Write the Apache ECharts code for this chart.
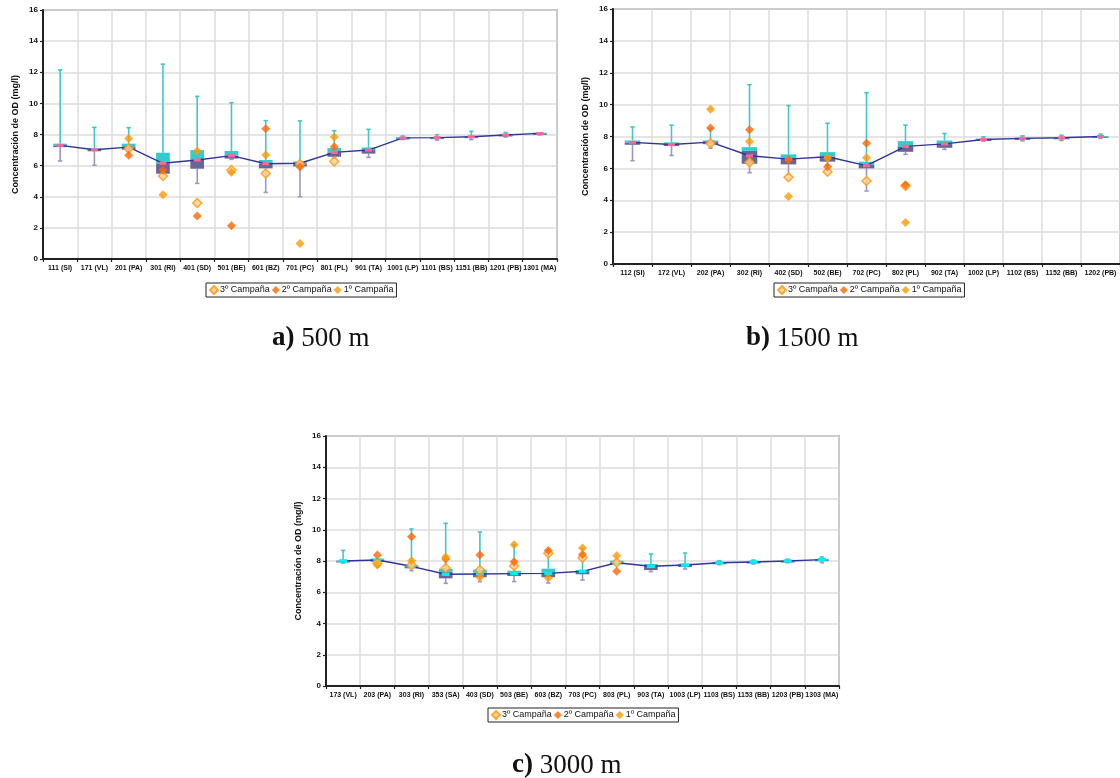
<!DOCTYPE html>
<html>
<head>
<meta charset="utf-8">
<script src="https://cdn.jsdelivr.net/npm/echarts@6/dist/echarts.min.js"></script>
<style>
  html, body { margin: 0; padding: 0; background: #fff; }
  #chart { width: 1120px; height: 778px; }
</style>
</head>
<body>
<div id="chart"></div>
<script>
// Dissolved oxygen (mg/l) per station, three transects: 500 m, 1500 m, 3000 m.
// Each station: whisker min, lower quartile, middle split, upper quartile, whisker max,
// plus the connected mean value and the individual survey campaigns.

const yTicks = [0, 2, 4, 6, 8, 10, 12, 14, 16];
const campaignNames = ['3º Campaña', '2º Campaña', '1º Campaña'];

// ---- a) 500 m ----
const catsA = ['111 (SI)', '171 (VL)', '201 (PA)', '301 (RI)', '401 (SD)', '501 (BE)', '601 (BZ)', '701 (PC)', '801 (PL)', '901 (TA)', '1001 (LP)', '1101 (BS)', '1151 (BB)', '1201 (PB)', '1301 (MA)'];
const minA  = [6.30, 6.02, 6.95, 5.45, 4.86, 6.40, 4.28, 4.00, 6.50, 6.53, 7.68, 7.64, 7.67, 7.84, 7.97];
const q1A   = [7.19, 6.94, 7.02, 5.48, 5.80, 6.45, 5.82, 5.95, 6.57, 6.77, 7.73, 7.75, 7.82, 7.92, 8.01];
const midA  = [7.30, 7.02, 7.19, 6.15, 6.36, 6.64, 6.12, 6.15, 6.85, 7.00, 7.78, 7.80, 7.86, 7.97, 8.07];
const q3A   = [7.41, 7.11, 7.41, 6.83, 7.00, 6.94, 6.36, 6.27, 7.13, 7.17, 7.83, 7.84, 7.90, 8.01, 8.12];
const maxA  = [12.15, 8.46, 8.44, 12.52, 10.45, 10.04, 8.89, 8.87, 8.24, 8.33, 7.90, 7.99, 8.20, 8.13, 8.15];
const meanA = [7.30, 7.02, 7.19, 6.15, 6.36, 6.64, 6.12, 6.15, 6.85, 7.00, 7.78, 7.80, 7.86, 7.97, 8.07];
const camp3A = [null, null, 7.09, 5.33, 3.60, 5.72, 5.50, 6.10, 6.27, null, null, null, null, null, null];
const camp2A = [null, null, 6.66, 5.70, 2.76, 2.14, 8.37, 5.91, 7.22, null, null, null, null, null, null];
const camp1A = [null, null, 7.75, 4.13, 6.94, 5.57, 6.68, 1.00, 7.84, null, null, null, null, null, null];

// ---- b) 1500 m ----
const catsB = ['112 (SI)', '172 (VL)', '202 (PA)', '302 (RI)', '402 (SD)', '502 (BE)', '702 (PC)', '802 (PL)', '902 (TA)', '1002 (LP)', '1102 (BS)', '1152 (BB)', '1202 (PB)'];
const minB  = [6.48, 6.81, 7.27, 5.73, 5.60, 6.20, 4.58, 6.88, 7.19, 7.71, 7.73, 7.75, 7.88];
const q1B   = [7.48, 7.40, 7.52, 6.29, 6.25, 6.42, 6.00, 7.04, 7.29, 7.76, 7.84, 7.88, 7.96];
const midB  = [7.63, 7.50, 7.65, 7.10, 6.60, 6.73, 6.25, 7.38, 7.54, 7.81, 7.88, 7.92, 8.00];
const q3B   = [7.75, 7.63, 7.75, 7.33, 6.88, 7.02, 6.42, 7.71, 7.75, 7.87, 7.93, 7.97, 8.03];
const maxB  = [8.60, 8.71, 8.50, 11.25, 9.94, 8.83, 10.75, 8.71, 8.19, 7.98, 8.04, 8.08, 8.15];
const meanB = [7.63, 7.50, 7.65, 6.79, 6.58, 6.73, 6.17, 7.38, 7.54, 7.81, 7.88, 7.92, 8.00];
const camp3B = [null, null, 7.58, 6.38, 5.44, 5.79, 5.21, 4.90, null, null, null, null, null];
const camp2B = [null, null, 8.54, 8.42, 6.52, 6.10, 7.58, 4.96, null, null, null, null, null];
const camp1B = [null, null, 9.71, 7.69, 4.23, 6.63, 6.67, 2.60, null, null, null, null, null];

// ---- c) 3000 m ----
const catsC = ['173 (VL)', '203 (PA)', '303 (RI)', '353 (SA)', '403 (SD)', '503 (BE)', '603 (BZ)', '703 (PC)', '803 (PL)', '903 (TA)', '1003 (LP)', '1103 (BS)', '1153 (BB)', '1203 (PB)', '1303 (MA)'];
const minC  = [7.87, 7.90, 7.38, 6.57, 6.68, 6.68, 6.59, 6.78, 7.80, 7.32, 7.49, 7.77, 7.81, 7.89, 7.89];
const q1C   = [7.96, 7.96, 7.53, 6.89, 6.96, 7.04, 6.96, 7.15, 7.81, 7.42, 7.62, 7.85, 7.90, 7.96, 8.05];
const midC  = [8.00, 8.06, 7.66, 7.30, 7.25, 7.25, 7.25, 7.36, 7.89, 7.70, 7.76, 7.89, 7.94, 8.00, 8.09];
const q3C   = [8.04, 8.15, 7.74, 7.51, 7.45, 7.38, 7.51, 7.42, 8.02, 7.81, 7.83, 7.93, 7.98, 8.04, 8.12];
const maxC  = [8.68, 8.15, 10.05, 10.41, 9.85, 9.04, 8.70, 8.80, 8.02, 8.45, 8.51, 8.02, 8.06, 8.11, 8.26];
const meanC = [8.00, 8.06, 7.66, 7.15, 7.17, 7.19, 7.21, 7.34, 7.89, 7.66, 7.74, 7.89, 7.94, 8.00, 8.09];
const camp3C = [null, 7.85, 7.74, 7.55, 7.42, 7.68, 8.49, 8.21, 7.91, null, null, null, null, null, null];
const camp2C = [null, 8.38, 9.56, 8.13, 8.38, 7.96, 8.68, 8.41, 7.34, null, null, null, null, null, null];
const camp1C = [null, 7.75, 8.02, 8.26, 6.96, 9.04, 6.91, 8.83, 8.34, null, null, null, null, null, null];

const FONT = '"Liberation Sans", Arial, sans-serif';
const SERIF = '"Liberation Serif", "DejaVu Serif", serif';
const COL = {
  upperBox: '#33cccc',
  lowerBox: '#666699',
  upperWhisker: '#40c8c8',
  lowerWhisker: '#9999c4',
  line: '#333399',
  meanPink: '#ff6699',
  meanCyan: '#00eeee',
  c3fill: '#ffcc99', c3border: '#ff9900',
  c2: '#ff6600',
  c1: '#ff9900'
};

// Box-and-whisker glyph drawn through the axis scales
function renderBox(params, api) {
  const i = api.value(0);
  const pMin = api.coord([i, api.value(1)]);
  const pQ1 = api.coord([i, api.value(2)]);
  const pMid = api.coord([i, api.value(3)]);
  const pQ3 = api.coord([i, api.value(4)]);
  const pMax = api.coord([i, api.value(5)]);
  const band = api.size([1, 0])[0];
  const bw = band * 0.4;
  const cap = 2.2;
  const x = pMid[0];
  const children = [];
  if (pMin[1] - pQ1[1] > 0.5) {
    children.push({ type: 'line', shape: { x1: x, y1: pQ1[1], x2: x, y2: pMin[1] }, style: { stroke: COL.lowerWhisker, lineWidth: 1.6 } });
    children.push({ type: 'line', shape: { x1: x - cap, y1: pMin[1], x2: x + cap, y2: pMin[1] }, style: { stroke: COL.lowerWhisker, lineWidth: 1.6 } });
  }
  if (pQ3[1] - pMax[1] > 0.5) {
    children.push({ type: 'line', shape: { x1: x, y1: pQ3[1], x2: x, y2: pMax[1] }, style: { stroke: COL.upperWhisker, lineWidth: 1.6 } });
    children.push({ type: 'line', shape: { x1: x - cap, y1: pMax[1], x2: x + cap, y2: pMax[1] }, style: { stroke: COL.upperWhisker, lineWidth: 1.6 } });
  }
  children.push({ type: 'rect', shape: { x: x - bw / 2, y: pMid[1], width: bw, height: Math.max(pQ1[1] - pMid[1], 1.5) }, style: { fill: COL.lowerBox } });
  children.push({ type: 'rect', shape: { x: x - bw / 2, y: pQ3[1], width: bw, height: Math.max(pMid[1] - pQ3[1], 1.5) }, style: { fill: COL.upperBox } });
  return { type: 'group', children };
}

const chart = echarts.init(document.getElementById('chart'));

const grids = [
  { left: 43, top: 10, width: 514, height: 249 },
  { left: 613, top: 9, width: 507, height: 255 },
  { left: 326, top: 436, width: 513, height: 250 }
];
const panels = [
  { cats: catsA, min: minA, q1: q1A, mid: midA, q3: q3A, max: maxA, mean: meanA, camps: [camp3A, camp2A, camp1A], meanColor: COL.meanPink, meanSize: [7, 3] },
  { cats: catsB, min: minB, q1: q1B, mid: midB, q3: q3B, max: maxB, mean: meanB, camps: [camp3B, camp2B, camp1B], meanColor: COL.meanPink, meanSize: [7, 3] },
  { cats: catsC, min: minC, q1: q1C, mid: midC, q3: q3C, max: maxC, mean: meanC, camps: [camp3C, camp2C, camp1C], meanColor: COL.meanCyan, meanSize: [8, 3.5] }
];

const xAxes = [], yAxes = [], series = [];
panels.forEach((p, g) => {
  xAxes.push({
    type: 'category', gridIndex: g, data: p.cats, boundaryGap: true,
    axisLine: { lineStyle: { color: '#222', width: 2 } },
    axisTick: { show: true, length: 3, lineStyle: { color: '#222', width: 1.2 } },
    axisLabel: { interval: 0, fontSize: 7, fontWeight: 'bold', color: '#111', fontFamily: FONT, margin: 6 },
    splitLine: { show: true, lineStyle: { color: '#dcdcdc', width: 1.5 } }
  });
  yAxes.push({
    type: 'value', gridIndex: g, min: yTicks[0], max: yTicks[yTicks.length - 1], interval: 2,
    name: 'Concentración de OD (mg/l)', nameLocation: 'middle', nameGap: 23, nameRotate: 90,
    nameTextStyle: { fontSize: 9, fontWeight: 'bold', color: '#111', fontFamily: FONT },
    axisLine: { show: true, lineStyle: { color: '#222', width: 2 } },
    axisTick: { show: true, length: 3, lineStyle: { color: '#222', width: 1.2 } },
    axisLabel: { fontSize: 8, fontWeight: 'bold', color: '#111', fontFamily: FONT, margin: 5 },
    splitLine: { show: true, lineStyle: { color: '#dcdcdc', width: 1.5 } }
  });
  series.push({
    type: 'custom', xAxisIndex: g, yAxisIndex: g, z: 2,
    renderItem: renderBox,
    encode: { x: 0, y: [1, 2, 3, 4, 5] },
    data: p.cats.map((c, i) => [i, p.min[i], p.q1[i], p.mid[i], p.q3[i], p.max[i]]),
    silent: true
  });
  series.push({
    type: 'line', xAxisIndex: g, yAxisIndex: g, z: 3,
    data: p.mean, symbol: 'rect', symbolSize: p.meanSize, showSymbol: true,
    itemStyle: { color: p.meanColor },
    lineStyle: { color: COL.line, width: 1.4 },
    silent: true, legendHoverLink: false
  });
  const styles = [
    { color: COL.c3fill, borderColor: COL.c3border, borderWidth: 1.5 },
    { color: COL.c2 },
    { color: COL.c1 }
  ];
  campaignNames.forEach((name, k) => {
    series.push({
      name, type: 'scatter', xAxisIndex: g, yAxisIndex: g, z: 4 + k,
      symbol: 'diamond', symbolSize: 9,
      itemStyle: styles[k],
      data: p.camps[k].map(v => (v === null ? '-' : v))
    });
  });
});

const legendBase = {
  data: campaignNames, orient: 'horizontal',
  itemWidth: 8, itemHeight: 8, itemGap: 2,
  padding: [2, 3, 2, 3],
  borderColor: '#222', borderWidth: 1,
  textStyle: { fontSize: 9, color: '#111', fontFamily: FONT, padding: [0, 0, 0, -3] },
  selectedMode: false
};

chart.setOption({
  animation: false,
  backgroundColor: '#fff',
  grid: grids.map(g => Object.assign({ show: true, borderColor: '#777', borderWidth: 1.5, containLabel: false }, g)),
  xAxis: xAxes,
  yAxis: yAxes,
  legend: [
    Object.assign({ left: 206, top: 283 }, legendBase),
    Object.assign({ left: 774, top: 283 }, legendBase),
    Object.assign({ left: 488, top: 708 }, legendBase)
  ],
  title: [
    { text: '{b|a)} 500 m', left: 267, top: 320 },
    { text: '{b|b)} 1500 m', left: 741, top: 320 },
    { text: '{b|c)} 3000 m', left: 507, top: 747 }
  ].map(t => Object.assign(t, {
    textStyle: {
      fontSize: 27, fontWeight: 'normal', color: '#111', fontFamily: SERIF,
      rich: { b: { fontSize: 27, fontWeight: 'bold', color: '#111', fontFamily: SERIF } }
    }
  })),
  series
});
</script>
</body>
</html>
